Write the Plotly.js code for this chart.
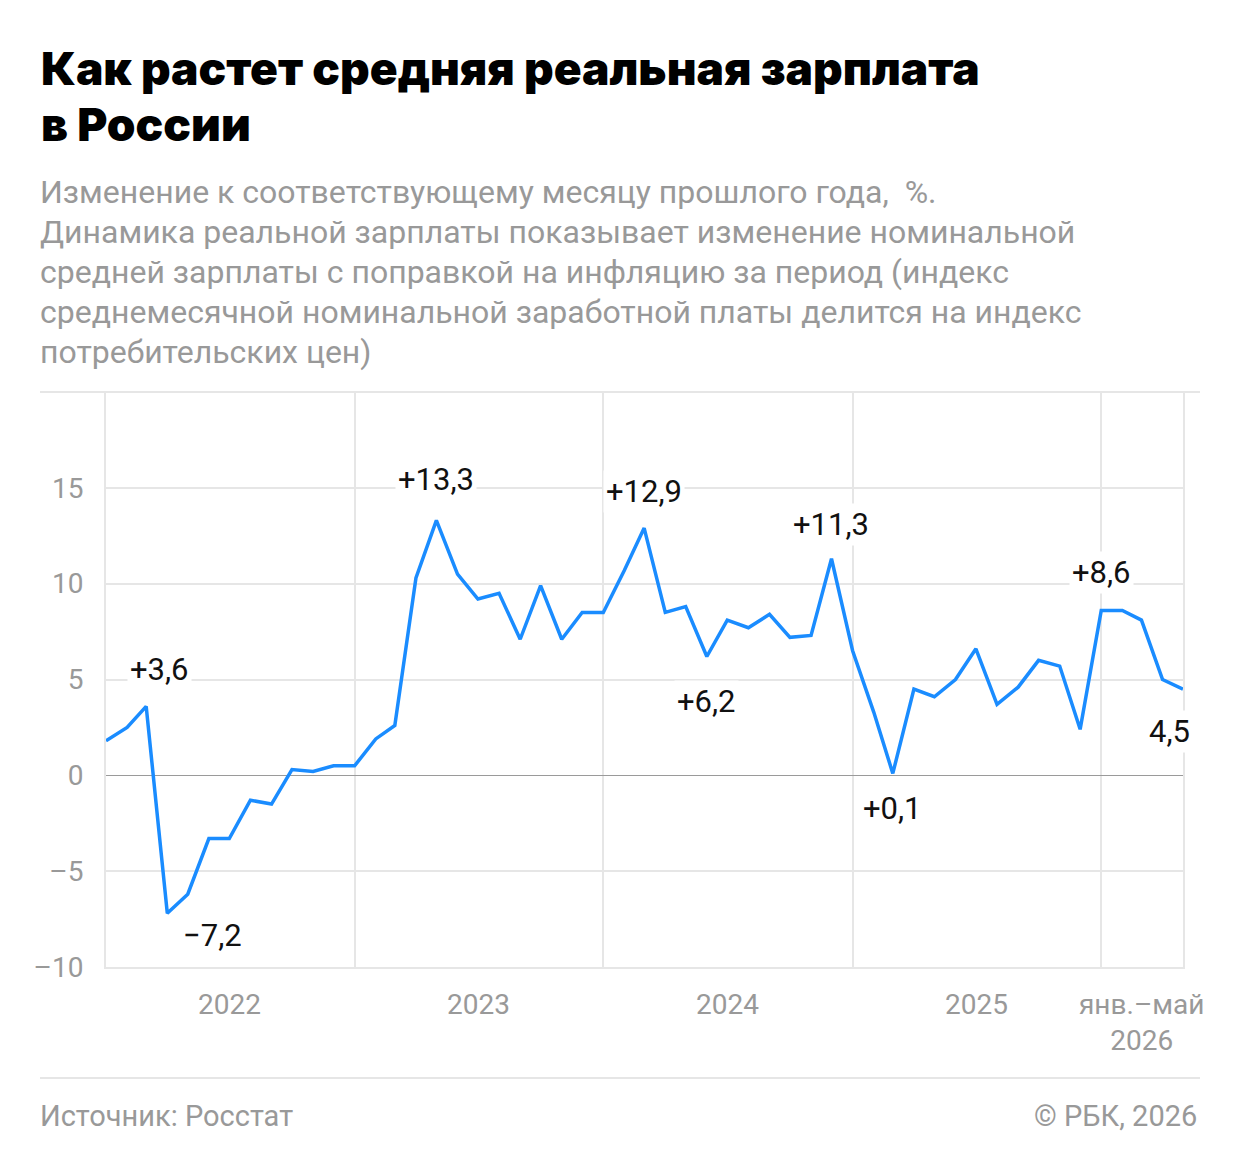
<!DOCTYPE html>
<html>
<head>
<meta charset="utf-8">
<script src="https://cdn.plot.ly/plotly-3.0.1.min.js"></script>
<style>
  html, body { margin: 0; padding: 0; background: #fff; }
  #chart { width: 1240px; height: 1174px; }
</style>
</head>
<body>
<div id="chart"></div>
<script>
// ---- data ----
const months = [
  '2022-01-01','2022-02-01','2022-03-01','2022-04-01','2022-05-01','2022-06-01','2022-07-01','2022-08-01','2022-09-01','2022-10-01','2022-11-01','2022-12-01',
  '2023-01-01','2023-02-01','2023-03-01','2023-04-01','2023-05-01','2023-06-01','2023-07-01','2023-08-01','2023-09-01','2023-10-01','2023-11-01','2023-12-01',
  '2024-01-01','2024-02-01','2024-03-01','2024-04-01','2024-05-01','2024-06-01','2024-07-01','2024-08-01','2024-09-01','2024-10-01','2024-11-01','2024-12-01',
  '2025-01-01','2025-02-01','2025-03-01','2025-04-01','2025-05-01','2025-06-01','2025-07-01','2025-08-01','2025-09-01','2025-10-01','2025-11-01','2025-12-01',
  '2026-01-01','2026-02-01','2026-03-01','2026-04-01','2026-05-01'
];
const realWage = [
  1.8, 2.5, 3.6, -7.2, -6.2, -3.3, -3.3, -1.3, -1.5, 0.3, 0.2, 0.5,
  0.5, 1.9, 2.6, 10.3, 13.3, 10.5, 9.2, 9.5, 7.1, 9.9, 7.1, 8.5,
  8.5, 10.7, 12.9, 8.5, 8.8, 6.2, 8.1, 7.7, 8.4, 7.2, 7.3, 11.3,
  6.5, 3.3, 0.1, 4.5, 4.1, 5.0, 6.6, 3.7, 4.6, 6.0, 5.7, 2.4,
  8.6, 8.6, 8.1, 5.0, 4.5
];
const labelMonths = ['2022-03-01','2022-04-01','2023-05-01','2024-03-01','2024-06-01','2024-12-01','2025-03-01','2026-01-01','2026-05-01'];
const labelTexts  = ['+3,6','−7,2','+13,3','+12,9','+6,2','+11,3','+0,1','+8,6','4,5'];
const yearBounds = ['2022-01-01','2023-01-01','2024-01-01','2025-01-01','2026-01-01','2026-05-01'];
const yearLabelPos = ['2022-07-02','2023-07-02','2024-07-02','2025-07-02','2026-03-01'];
const yearLabels = ['2022','2023','2024','2025','янв.–май<br>2026'];
const yTicks = [-10, -5, 0, 5, 10, 15];

// ---- layout helpers (pixel geometry) ----
const W = 1240, H = 1174;
const L = 106, R = 1183, T = 392, B = 967;
const px = x => (x - L) / (R - L);
const py = y => (B - y) / (B - T);
const labelShift = [[13,37],[45,-22],[0,41],[0,37],[0,-45],[0,34],[0,-35],[0,38],[-14,-42]];

const GRID = '#e6e6e6';
const GREY = '#999999';
const FONT = 'Roboto, "Noto Sans", sans-serif';

const trace = {
  x: months, y: realWage, type: 'scatter', mode: 'lines',
  line: { color: '#1a8cff', width: 3.5, shape: 'linear' },
  hoverinfo: 'skip'
};

const annotations = [];
labelMonths.forEach((m, i) => {
  const idx = months.indexOf(m);
  annotations.push({
    x: m, y: realWage[idx], xref: 'x', yref: 'y',
    text: labelTexts[i], showarrow: false,
    xanchor: 'center', yanchor: 'middle',
    xshift: labelShift[i][0], yshift: labelShift[i][1],
    font: { family: FONT, size: 31, color: '#111' },
    bgcolor: 'rgba(255,255,255,1)', borderpad: 2
  });
});
yearLabels.forEach((t, i) => {
  annotations.push({
    x: yearLabelPos[i], y: py(986), xref: 'x', yref: 'paper',
    text: t, showarrow: false, xanchor: 'center', yanchor: 'top',
    font: { family: FONT, size: 28, color: GREY }
  });
});
// title
['Как растет средняя реальная зарплата', 'в России'].forEach((t, i) => {
  annotations.push({
    x: px(39), y: py(68 + i * 56), xref: 'paper', yref: 'paper',
    text: t, showarrow: false, xanchor: 'left', yanchor: 'middle',
    font: { family: 'Inter, Roboto, sans-serif', size: 46, color: '#000', weight: 900 }
  });
});
// subtitle
const subLines = [
  'Изменение к соответствующему месяцу прошлого года,  %.',
  'Динамика реальной зарплаты показывает изменение номинальной',
  'средней зарплаты с поправкой на инфляцию за период (индекс',
  'среднемесячной номинальной заработной платы делится на индекс',
  'потребительских цен)'
];
subLines.forEach((t, i) => {
  annotations.push({
    x: px(38), y: py(192 + i * 40), xref: 'paper', yref: 'paper',
    text: t, showarrow: false, xanchor: 'left', yanchor: 'middle',
    font: { family: FONT, size: 32, color: GREY }
  });
});
// footer
annotations.push({
  x: px(38), y: py(1116), xref: 'paper', yref: 'paper',
  text: 'Источник: Росстат', showarrow: false, xanchor: 'left', yanchor: 'middle',
  font: { family: FONT, size: 29, color: GREY }
});
annotations.push({
  x: px(1199), y: py(1116), xref: 'paper', yref: 'paper',
  text: '© РБК, 2026', showarrow: false, xanchor: 'right', yanchor: 'middle',
  font: { family: FONT, size: 29, color: GREY }
});

const shapes = [
  { type: 'line', xref: 'paper', yref: 'paper', x0: px(40), x1: px(1200), y0: py(392), y1: py(392),
    line: { color: GRID, width: 2 } },
  { type: 'line', xref: 'paper', yref: 'paper', x0: px(40), x1: px(1200), y0: py(1078), y1: py(1078),
    line: { color: GRID, width: 2 } }
];

const layout = {
  width: W, height: H,
  margin: { l: L, r: W - R, t: T, b: H - B, pad: 0 },
  paper_bgcolor: '#fff', plot_bgcolor: '#fff',
  showlegend: false,
  font: { family: FONT },
  xaxis: {
    type: 'date',
    range: ['2022-01-01', '2026-05-01'],
    tickmode: 'array', tickvals: yearBounds,
    showticklabels: false, ticks: '',
    showgrid: true, gridcolor: GRID, gridwidth: 2,
    showline: true, linecolor: GRID, linewidth: 2,
    zeroline: false, fixedrange: true
  },
  yaxis: {
    range: [-10, 20],
    tickmode: 'array', tickvals: yTicks, ticktext: yTicks.map(v => v < 0 ? '–' + Math.abs(v) : String(v)),
    showgrid: true, gridcolor: GRID, gridwidth: 2,
    zeroline: true, zerolinecolor: '#9a9a9a', zerolinewidth: 1.5,
    showline: true, linecolor: GRID, linewidth: 2, mirror: true,
    ticks: '', ticklabelstandoff: 15,
    tickfont: { family: FONT, size: 28, color: GREY },
    fixedrange: true
  },
  annotations: annotations,
  shapes: shapes
};

Plotly.newPlot('chart', [trace], layout, { displayModeBar: false, staticPlot: true });
</script>
</body>
</html>
